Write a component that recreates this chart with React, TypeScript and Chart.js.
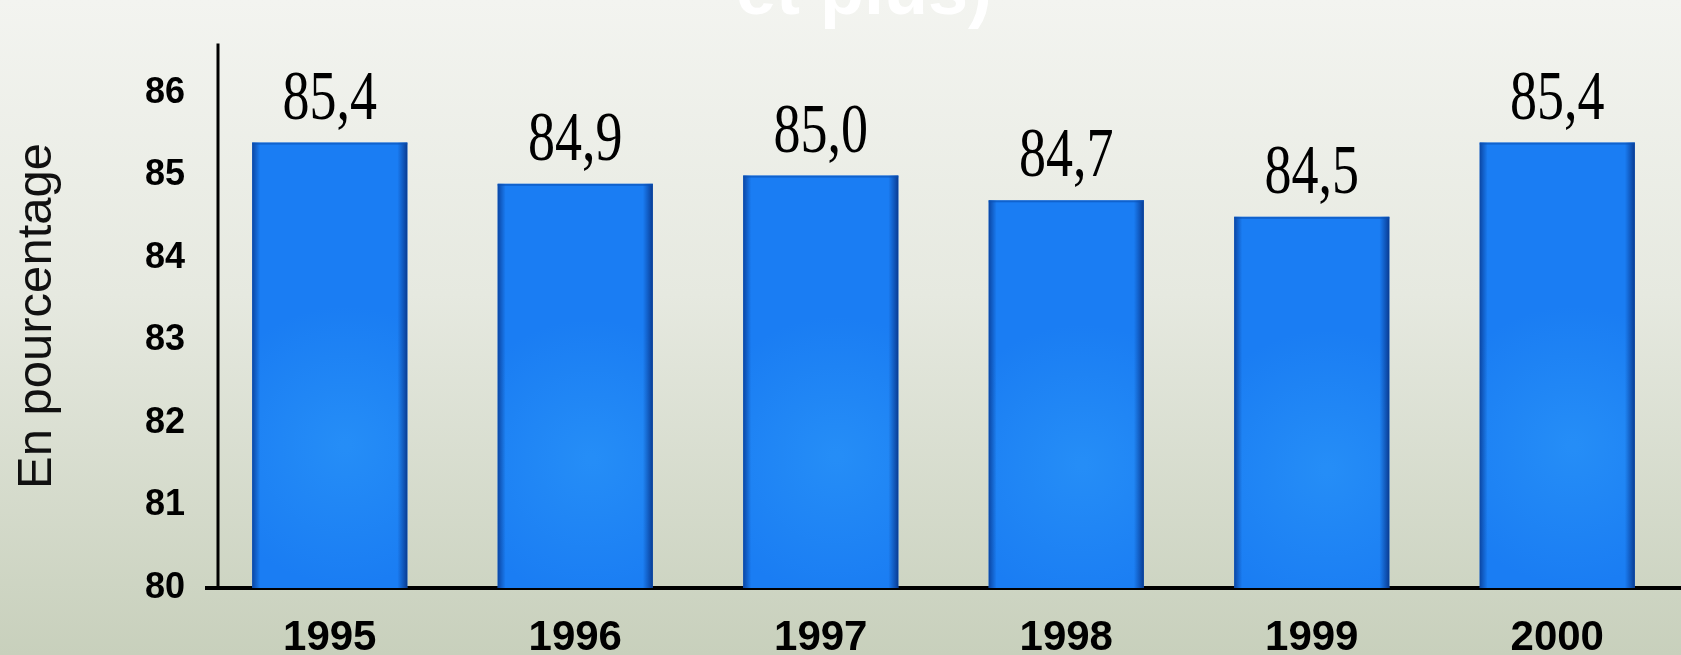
import React, { useEffect, useRef } from "react";
import { Chart, registerables } from "chart.js";

Chart.register(...registerables);

const years = ["1995", "1996", "1997", "1998", "1999", "2000"];
const values = [85.4, 84.9, 85.0, 84.7, 84.5, 85.4];
const yTicks = [80, 81, 82, 83, 84, 85, 86];
const yTitle = "En pourcentage";
const titleFragment = "et plus)";

const decorPlugin = {
  id: "decor",
  beforeDraw(chart: any) {
    const { ctx } = chart;
    ctx.save();
    ctx.font = "bold 72px 'Liberation Sans', Arial, sans-serif";
    ctx.fillStyle = "#ffffff";
    ctx.textAlign = "center";
    ctx.textBaseline = "alphabetic";
    ctx.fillText(titleFragment, 864, 14);
    ctx.restore();
  },
  afterDatasetsDraw(chart: any) {
    const { ctx, chartArea } = chart;
    const meta = chart.getDatasetMeta(0);
    meta.data.forEach((bar: any, i: number) => {
      const w = bar.width;
      const l = bar.x - w / 2;
      const r = bar.x + w / 2;
      const top = bar.y;
      const bot = Math.min(bar.base, chartArea.bottom);
      const h = bot - top;
      ctx.save();
      const cx = bar.x + w * 0.1;
      const cy = top + h * 0.68;
      const rg = ctx.createRadialGradient(cx, cy, 5, cx, cy, w * 0.9);
      rg.addColorStop(0, "rgba(60,175,255,0.32)");
      rg.addColorStop(1, "rgba(60,175,255,0)");
      ctx.fillStyle = rg;
      ctx.fillRect(l, top, w, h);
      const lg = ctx.createLinearGradient(l, 0, l + 8, 0);
      lg.addColorStop(0, "rgba(8,60,150,0.85)");
      lg.addColorStop(1, "rgba(8,60,150,0)");
      ctx.fillStyle = lg;
      ctx.fillRect(l, top, 8, h);
      const rgd = ctx.createLinearGradient(r - 10, 0, r, 0);
      rgd.addColorStop(0, "rgba(8,60,150,0)");
      rgd.addColorStop(1, "rgba(8,55,140,0.95)");
      ctx.fillStyle = rgd;
      ctx.fillRect(r - 10, top, 10, h);
      ctx.fillStyle = "rgba(10,80,180,0.6)";
      ctx.fillRect(l, top, w, 2);
      // value label (tall serif, as in the original)
      ctx.translate(bar.x, top - 24);
      ctx.scale(1, 1.28);
      ctx.font = "54px 'Liberation Serif', 'Times New Roman', serif";
      ctx.fillStyle = "#000000";
      ctx.textAlign = "center";
      ctx.textBaseline = "alphabetic";
      ctx.fillText(values[i].toFixed(1).replace(".", ","), 0, 0);
      ctx.restore();
    });
  },
  afterDraw(chart: any) {
    const { ctx, chartArea } = chart;
    ctx.save();
    // y axis line
    ctx.strokeStyle = "#000000";
    ctx.lineWidth = 3;
    ctx.beginPath();
    ctx.moveTo(chartArea.left + 11, chartArea.top);
    ctx.lineTo(chartArea.left + 11, chartArea.bottom);
    ctx.stroke();
    // y axis title
    ctx.translate(37, 316);
    ctx.rotate(-Math.PI / 2);
    ctx.font = "49px 'Liberation Sans', Arial, sans-serif";
    ctx.fillStyle = "#111111";
    ctx.textAlign = "center";
    ctx.textBaseline = "middle";
    ctx.fillText(yTitle, 0, 0);
    ctx.restore();
  },
};

export default function App() {
  const canvasRef = useRef<HTMLCanvasElement>(null);

  useEffect(() => {
    if (!canvasRef.current) return;
    const chart = new Chart(canvasRef.current, {
      type: "bar",
      data: {
        labels: years,
        datasets: [
          {
            data: values,
            backgroundColor: "#1a7df3",
            borderWidth: 0,
            barPercentage: 0.632,
            categoryPercentage: 1,
          },
        ],
      },
      options: {
        animation: false,
        responsive: true,
        maintainAspectRatio: false,
        layout: { padding: { top: 26, right: 1, left: 0, bottom: 0 } },
        plugins: {
          legend: { display: false },
          tooltip: { enabled: false },
          title: { display: false },
        },
        scales: {
          x: {
            grid: { display: false, drawTicks: false },
            border: { display: true, color: "#000000", width: 4 },
            ticks: {
              color: "#000000",
              padding: 25,
              font: { family: "'Liberation Sans', Arial, sans-serif", size: 42, weight: "bold" },
            },
            afterFit: (scale: any) => {
              scale.height = 67;
            },
          },
          y: {
            min: 80,
            max: 86.6,
            grid: { display: false, drawTicks: false },
            border: { display: false },
            afterBuildTicks: (scale: any) => {
              scale.ticks = yTicks.map((v) => ({ value: v }));
            },
            ticks: {
              color: "#000000",
              padding: 22,
              font: { family: "'Liberation Sans', Arial, sans-serif", size: 36, weight: "bold" },
            },
            afterFit: (scale: any) => {
              scale.width = 207;
            },
          },
        },
      },
      plugins: [decorPlugin],
    });
    return () => chart.destroy();
  }, []);

  return (
    <div
      style={{
        position: "fixed",
        left: 0,
        top: 0,
        width: "1681px",
        height: "655px",
        background: "linear-gradient(to bottom, #f3f4f0 0%, #e6e9e0 45%, #c8d0bc 100%)",
      }}
    >
      <canvas ref={canvasRef} />
    </div>
  );
}
